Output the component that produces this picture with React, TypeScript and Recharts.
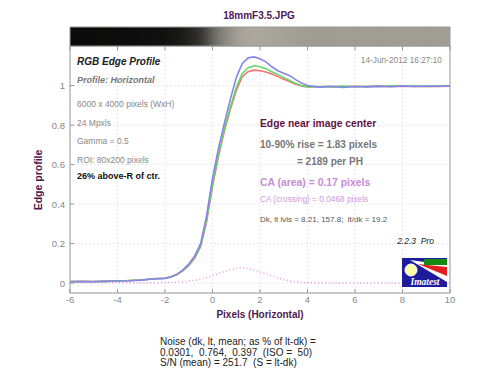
import React from "react";
import {
  LineChart,
  Line,
  XAxis,
  YAxis,
  CartesianGrid,
} from "recharts";

const FONT = "'Liberation Sans', Arial, sans-serif";

// pixel offsets along the edge (horizontal profile)
const xs = [
  -6, -5.5, -5, -4.5, -4, -3.5, -3, -2.5, -2, -1.75, -1.5, -1.25, -1, -0.75, -0.5, -0.25,
  0, 0.25, 0.5, 0.75, 1, 1.25, 1.5, 1.75, 2, 2.25, 2.5, 2.75, 3, 3.25, 3.5, 3.75,
  4, 4.5, 5, 5.5, 6, 6.5, 7, 7.5, 8, 8.5, 9, 9.5, 10,
];

const blueProfile = [
  0.007, 0.008, 0.007, 0.009, 0.011, 0.012, 0.015, 0.021, 0.024, 0.031, 0.044, 0.066, 0.097, 0.138, 0.2, 0.34,
  0.53, 0.68, 0.81, 0.93, 1.04, 1.11, 1.14, 1.145, 1.135, 1.12, 1.095, 1.075, 1.062, 1.05, 1.03, 1.012,
  1.0, 0.992, 0.996, 0.99, 0.995, 0.993, 0.997, 0.994, 0.998, 0.995, 0.997, 0.996, 0.998,
];

const greenProfile = [
  0.008, 0.008, 0.008, 0.009, 0.011, 0.013, 0.016, 0.022, 0.025, 0.032, 0.044, 0.064, 0.093, 0.13, 0.19, 0.32,
  0.5, 0.65, 0.78, 0.89, 0.99, 1.06, 1.09, 1.1, 1.095, 1.085, 1.07, 1.055, 1.04, 1.025, 1.01, 1.0,
  0.993, 0.995, 0.993, 0.997, 0.994, 0.996, 0.995, 0.999, 0.996, 0.998, 0.995, 0.997, 0.996,
];

const redProfile = [
  0.008, 0.009, 0.008, 0.01, 0.012, 0.013, 0.016, 0.022, 0.025, 0.032, 0.043, 0.062, 0.09, 0.126, 0.185, 0.31,
  0.49, 0.64, 0.77, 0.88, 0.975, 1.045, 1.07, 1.078, 1.075, 1.068, 1.058, 1.045, 1.032, 1.02, 1.006, 0.998,
  0.993, 0.994, 0.995, 0.993, 0.996, 0.994, 0.997, 0.995, 0.997, 0.995, 0.996, 0.995, 0.997,
];

// chromatic aberration (area between channels)
const caProfile = [
  0.002, 0.002, 0.002, 0.002, 0.002, 0.002, 0.002, 0.002, 0.003, 0.004, 0.005, 0.007, 0.01, 0.014, 0.02, 0.028,
  0.037, 0.048, 0.059, 0.068, 0.075, 0.078, 0.074, 0.066, 0.057, 0.047, 0.037, 0.027, 0.018, 0.011, 0.006, 0.003,
  0.002, 0.001, 0.001, 0.001, 0.001, 0.001, 0.001, 0.001, 0.001, 0.001, 0.001, 0.001, 0.001,
];

const xTicks = [-6, -4, -2, 0, 2, 4, 6, 8, 10];
const yTicks = [0, 0.2, 0.4, 0.6, 0.8, 1];

const infoLines = ["6000 x 4000 pixels (WxH)", "24 Mpxls", "Gamma = 0.5", "ROI: 80x200 pixels"];
const noiseLines = [
  "Noise (dk, lt, mean; as % of lt-dk) =",
  "0.0301,  0.764,  0.397  (ISO =  50)",
  "S/N (mean) = 251.7  (S = lt-dk)",
];

// svg text collapses runs of spaces, keep the double ones
const keepSpaces = (s: string) => s.replace(/  /g, " \u00a0");

const data = xs.map((x, i) => ({
  x,
  red: redProfile[i],
  green: greenProfile[i],
  blue: blueProfile[i],
  ca: caProfile[i],
}));

// edge image strip above the plot, shaded from the green channel
const stripStops = xs.map((x, i) => {
  const v = Math.pow(Math.max(0, greenProfile[i]), 0.7);
  const c = (a: number, b: number) => Math.round(a + (b - a) * v);
  return { offset: ((x - xs[0]) / (xs[xs.length - 1] - xs[0])) * 100, color: `rgb(${c(6, 160)},${c(6, 157)},${c(6, 148)})` };
});

const LeftTick = ({ x, y, payload }: any) => (
  <g>
    <text x={x - 5} y={y} dy={3.5} textAnchor="end" fontSize={9.5} fill="#888" fontFamily={FONT}>
      {payload.value}
    </text>
    <line x1={x} x2={x + 4} y1={y} y2={y} stroke="#999" />
  </g>
);

const RightTick = ({ x, y }: any) => <line x1={x - 4} x2={x} y1={y} y2={y} stroke="#999" />;

const BottomTick = ({ x, y, payload }: any) => (
  <g>
    <text x={x} y={y + 10} textAnchor="middle" fontSize={9.5} fill="#888" fontFamily={FONT}>
      {payload.value}
    </text>
    <line x1={x} x2={x} y1={y} y2={y - 4} stroke="#999" />
  </g>
);

const TopTick = ({ x, y }: any) => <line x1={x} x2={x} y1={y} y2={y + 4} stroke="#999" />;

export default function App() {
  return (
    <div style={{ position: "absolute", left: 0, top: 0, width: 500, height: 384, background: "#fff" }}>
      <LineChart width={500} height={384} data={data} margin={{ top: 45, right: 49, bottom: 61, left: 40 }}>
        <CartesianGrid stroke="#d4d4d4" strokeDasharray="1 3" />
        <XAxis
          dataKey="x"
          type="number"
          domain={[-6, 10]}
          ticks={xTicks}
          height={30}
          axisLine={{ stroke: "#999" }}
          tickLine={false}
          tickSize={0}
          tickMargin={0}
          tick={<BottomTick />}
        />
        <XAxis
          xAxisId="top"
          orientation="top"
          dataKey="x"
          type="number"
          domain={[-6, 10]}
          ticks={xTicks}
          height={1}
          axisLine={{ stroke: "#999" }}
          tickLine={false}
          tickSize={0}
          tickMargin={0}
          tick={<TopTick />}
        />
        <YAxis
          type="number"
          domain={[-0.05, 1.2]}
          ticks={yTicks}
          width={30}
          axisLine={{ stroke: "#999" }}
          tickLine={false}
          tickSize={0}
          tickMargin={0}
          tick={<LeftTick />}
        />
        <YAxis
          yAxisId="right"
          orientation="right"
          type="number"
          domain={[-0.05, 1.2]}
          ticks={yTicks}
          width={1}
          axisLine={{ stroke: "#999" }}
          tickLine={false}
          tickSize={0}
          tickMargin={0}
          tick={<RightTick />}
        />
        <Line dataKey="ca" type="linear" stroke="#e496e4" strokeWidth={1.5} strokeDasharray="1 2.5" dot={false} isAnimationActive={false} />
        <Line dataKey="red" type="linear" stroke="#f07272" strokeWidth={1.6} dot={false} isAnimationActive={false} />
        <Line dataKey="green" type="linear" stroke="#62d862" strokeWidth={1.6} dot={false} isAnimationActive={false} />
        <Line dataKey="blue" type="linear" stroke="#8484ee" strokeWidth={1.6} dot={false} isAnimationActive={false} />
      </LineChart>

      <svg
        width={500}
        height={384}
        style={{ position: "absolute", left: 0, top: 0, pointerEvents: "none" }}
        fontFamily={FONT}
      >
        <defs>
          <linearGradient id="edge-strip" x1="0" y1="0" x2="1" y2="0">
            {stripStops.map((s, i) => (
              <stop key={i} offset={`${s.offset}%`} stopColor={s.color} />
            ))}
          </linearGradient>
        </defs>

        <text x={259} y={19} textAnchor="middle" fontSize={10} fontWeight="bold" fill="#4e1a5a">
          18mmF3.5.JPG
        </text>
        <rect x={70} y={27} width={380} height={19} fill="url(#edge-strip)" stroke="#999" />

        <text x={77} y={65} fontSize={10} fontWeight="bold" fontStyle="italic" fill="#222">RGB Edge Profile</text>
        <text x={77} y={83} fontSize={9} fontWeight="bold" fontStyle="italic" fill="#777">Profile: Horizontal</text>
        {infoLines.map((t, i) => (
          <text key={t} x={77} y={107 + i * 18.5} fontSize={8.5} fill="#888">{t}</text>
        ))}
        <text x={77} y={179} fontSize={9} fontWeight="bold" fill="#111">26% above-R of ctr.</text>
        <text x={442} y={63} textAnchor="end" fontSize={8.3} fill="#888">14-Jun-2012 16:27:10</text>

        <text x={260} y={127} fontSize={10.3} fontWeight="bold" fill="#661144">Edge near image center</text>
        <text x={260} y={148} fontSize={10} fontWeight="bold" fill="#777">10-90% rise = 1.83 pixels</text>
        <text x={297} y={165} fontSize={10} fontWeight="bold" fill="#777">= 2189 per PH</text>
        <text x={260} y={186} fontSize={10.4} fontWeight="bold" fill="#c68cd6">CA (area) = 0.17 pixels</text>
        <text x={260} y={202} fontSize={8.3} fill="#cc99dd">CA (crossing) = 0.0468 pixels</text>
        <text x={260} y={222} fontSize={8} fill="#555">{keepSpaces("Dk, lt lvls = 8.21, 157.8;  lt/dk = 19.2")}</text>
        <text x={434} y={244} textAnchor="end" fontSize={8.5} fontStyle="italic" fill="#222">{keepSpaces("2.2.3  Pro")}</text>

        <text x={42} y={180} transform="rotate(-90 42 180)" textAnchor="middle" fontSize={10.5} fontWeight="bold" fill="#4e1a4e">
          Edge profile
        </text>
        <text x={260} y={318} textAnchor="middle" fontSize={10} fontWeight="bold" fill="#4e1a4e">
          Pixels (Horizontal)
        </text>

        {noiseLines.map((t, i) => (
          <text key={t} x={160} y={345 + i * 10.5} fontSize={10} fill="#222">{keepSpaces(t)}</text>
        ))}

        {/* Imatest badge */}
        <g>
          <rect x={402} y={258} width={45} height={29} fill="#1c1c9c" />
          <polygon points="410,260 447,265 447,282" fill="#fff" />
          <polygon points="418,264 447,267 447,276" fill="#e02020" />
          <rect x={424} y={259} width={23} height={6} fill="#138a13" />
          <circle cx={411} cy={270} r={6} fill="#ffffa8" stroke="#fff" />
          <text x={425} y={285} textAnchor="middle" fontSize={9.5} fontWeight="bold" fontStyle="italic" fill="#fff" fontFamily="'Liberation Serif', serif">
            Imatest
          </text>
        </g>
      </svg>
    </div>
  );
}
